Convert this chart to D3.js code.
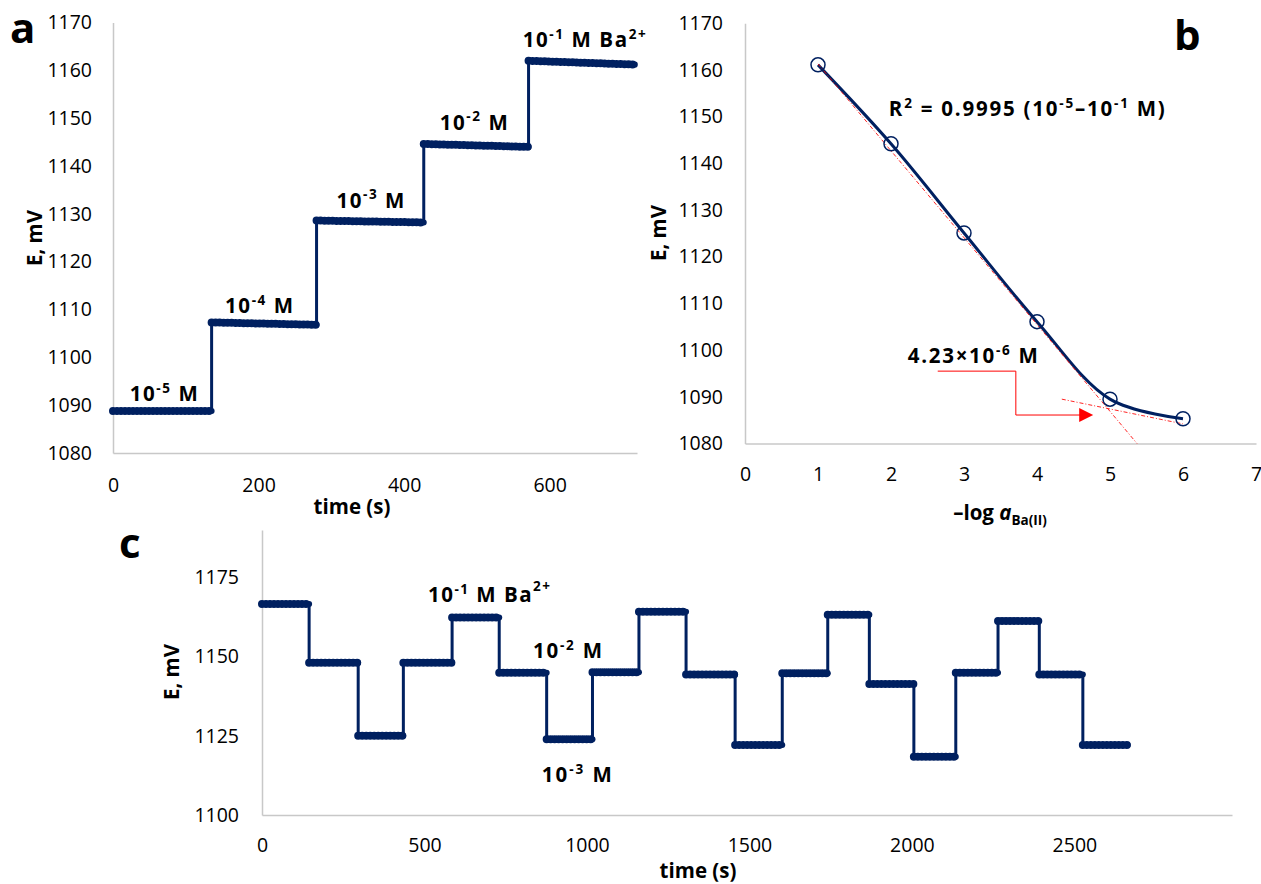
<!DOCTYPE html>
<html>
<head>
<meta charset="utf-8">
<script src="https://cdn.jsdelivr.net/npm/d3@7"></script>
<style>
  body { margin: 0; background: #fff; }
  svg { display: block; }
  text { font-family: "Open Sans", "Noto Sans", sans-serif; fill: #000; }
</style>
</head>
<body>
<svg id="fig" width="1261" height="884"></svg>
<script>
// ---------- data ----------
// (a) calibration run: step boundaries (s) and plateau potentials (mV) at start / end of each step
const aTimes = [0, 135.5, 279.7, 427, 571, 717];
const aStartE = [1088.8, 1107.3, 1128.6, 1144.6, 1162.0];
const aEndE = [1088.8, 1106.8, 1128.2, 1144.0, 1161.2];
const aConcExp = ["-5", "-4", "-3", "-2", "-1"];

// (b) calibration plot
const bLogA = [1, 2, 3, 4, 5, 6];
const bE = [1161.1, 1144.2, 1125.1, 1106.1, 1089.5, 1085.3];
const bFitLinear = [[1, 1161.3], [5.37, 1080]];   // Nernstian segment fit
const bFitLow = [[4.34, 1089.5], [6, 1084.2]];     // low-activity segment
const bDetectionLimit = "4.23×10";
const bR2 = "0.9995";

// (c) reversibility run: step boundaries (s) and plateau potentials (mV)
const cTimes = [0, 145, 296, 435, 585, 730, 876, 1017, 1160, 1305, 1456, 1601, 1741, 1869, 2006, 2135, 2265, 2392, 2526, 2664];
const cLevels = [1166.6, 1148.1, 1125.0, 1148.1, 1162.4, 1144.9, 1123.9, 1145.1, 1164.2, 1144.4, 1122.1, 1144.8, 1163.2, 1141.4, 1118.4, 1144.9, 1161.3, 1144.4, 1122.1];

// tick values
const aXTicks = [0, 200, 400, 600];
const aYTicks = [1080, 1090, 1100, 1110, 1120, 1130, 1140, 1150, 1160, 1170];
const bXTicks = [0, 1, 2, 3, 4, 5, 6, 7];
const bYTicks = aYTicks;
const cXTicks = [0, 500, 1000, 1500, 2000, 2500];
const cYTicks = [1100, 1125, 1150, 1175];

// ---------- styles ----------
const NAVY = "#002060";
const AXIS = "#c8c8c8";
const RED = "#ff0000";
const TICK_FS = 19.5;
const LABEL_FS = 20.5;

const svg = d3.select("#fig");

// bold text with superscript / subscript / italic runs, optionally stretched to a set width
function rich(g, x, y, parts, size, opts = {}) {
  const t = g.append("text")
    .attr("x", x).attr("y", y)
    .attr("font-size", size)
    .attr("font-weight", 700)
    .attr("text-anchor", opts.anchor || "start");
  if (opts.width) t.attr("textLength", opts.width).attr("lengthAdjust", "spacing");
  let shift = 0;
  parts.forEach(([str, kind]) => {
    let target = 0;
    if (kind === "sup") target = -0.40 * size;
    if (kind === "sup2") target = -0.55 * size;
    if (kind === "sub") target = 0.22 * size;
    const ts = t.append("tspan").text(str).attr("dy", target - shift);
    shift = target;
    if (kind === "sup" || kind === "sup2" || kind === "sub") ts.attr("font-size", size * 0.66);
    if (kind === "it") ts.attr("font-style", "italic");
  });
  return t;
}

function axes(g, x, y, xTicks, yTicks, xPad, yPad) {
  const fmt = d3.format("d");
  const ax = g.append("g")
    .attr("transform", `translate(0,${y.range()[0]})`)
    .call(d3.axisBottom(x).tickValues(xTicks).tickFormat(fmt).tickSize(0).tickSizeOuter(0).tickPadding(xPad));
  const ay = g.append("g")
    .attr("transform", `translate(${x.range()[0]},0)`)
    .call(d3.axisLeft(y).tickValues(yTicks).tickFormat(fmt).tickSize(0).tickSizeOuter(0).tickPadding(yPad));
  [ax, ay].forEach(a => {
    a.select(".domain").attr("stroke", AXIS).attr("stroke-width", 1.5);
    a.selectAll("text").attr("font-size", TICK_FS).attr("font-family", "Open Sans").attr("fill", "#000");
  });
}

// step trace: thin connecting line plus beaded plateau bands
function stepTrace(g, x, y, times, startE, endE) {
  const line = d3.line().x(d => x(d[0])).y(d => y(d[1]));
  const pts = [];
  for (let i = 0; i < startE.length; i++) {
    pts.push([times[i], startE[i]], [times[i + 1], endE[i]]);
  }
  g.append("path").attr("d", line(pts))
    .attr("fill", "none").attr("stroke", NAVY).attr("stroke-width", 3);
  for (let i = 0; i < startE.length; i++) {
    const seg = [[times[i], startE[i]], [times[i + 1], endE[i]]];
    g.append("path").attr("d", line(seg))
      .attr("fill", "none").attr("stroke", NAVY)
      .attr("stroke-width", 6).attr("stroke-linecap", "round");
    g.append("path").attr("d", line(seg))
      .attr("fill", "none").attr("stroke", NAVY)
      .attr("stroke-width", 8).attr("stroke-linecap", "round")
      .attr("stroke-dasharray", "0 4");
  }
}

// ---------- panel a ----------
{
  const g = svg.append("g");
  const x = d3.scaleLinear([0, 720], [113, 637]);
  const y = d3.scaleLinear([1080, 1170], [453, 22.5]);
  axes(g, x, y, aXTicks, aYTicks, 25, 21);
  stepTrace(g, x, y, aTimes, aStartE, aEndE);

  const labelAt = [[23, 1090.9], [154, 1109.3], [307, 1131.3], [449, 1147.6], [563, 1164.9]];
  aConcExp.forEach((e, i) => {
    const parts = [["10", ""], [e, "sup"], [" M", ""]];
    const last = i === aConcExp.length - 1;
    if (last) parts.push([" Ba", ""], ["2+", "sup"]);
    rich(g, x(labelAt[i][0]), y(labelAt[i][1]), parts, LABEL_FS, { width: last ? 123 : 68 });
  });

  g.append("text").attr("transform", "translate(42,238) rotate(-90)")
    .attr("text-anchor", "middle").attr("font-size", LABEL_FS).attr("font-weight", 700).text("E, mV");
  g.append("text").attr("x", 352).attr("y", 514)
    .attr("text-anchor", "middle").attr("font-size", LABEL_FS).attr("font-weight", 700).text("time (s)");
  g.append("text").attr("x", 10).attr("y", 43)
    .attr("font-size", 42).attr("font-weight", 700).text("a");
}

// ---------- panel b ----------
{
  const g = svg.append("g");
  const x = d3.scaleLinear([0, 7], [745, 1256]);
  const y = d3.scaleLinear([1080, 1170], [443.5, 23.3]);
  axes(g, x, y, bXTicks, bYTicks, 24, 22);

  const line = d3.line().x(d => x(d[0])).y(d => y(d[1]));
  const pts = bLogA.map((v, i) => [v, bE[i]]);
  g.append("path")
    .attr("d", line.curve(d3.curveCatmullRom.alpha(0.5))(pts))
    .attr("fill", "none").attr("stroke", NAVY).attr("stroke-width", 3);
  line.curve(d3.curveLinear);

  [bFitLinear, bFitLow].forEach(seg => {
    g.append("path").attr("d", line(seg))
      .attr("fill", "none").attr("stroke", RED).attr("stroke-width", 1)
      .attr("stroke-dasharray", "4 2 1 2").attr("opacity", 0.85);
  });

  g.selectAll("circle.pt").data(pts).join("circle")
    .attr("class", "pt")
    .attr("cx", d => x(d[0])).attr("cy", d => y(d[1])).attr("r", 7)
    .attr("fill", "none").attr("stroke", NAVY).attr("stroke-width", 1.5);

  // detection-limit callout
  const callout = [[2.64, 1095.5], [3.71, 1095.5], [3.71, 1086.1], [4.6, 1086.1]];
  g.append("path").attr("d", line(callout))
    .attr("fill", "none").attr("stroke", RED).attr("stroke-width", 1);
  const tip = [x(4.77), y(1086.1)];
  g.append("path")
    .attr("d", `M${tip[0]},${tip[1]} L${tip[0] - 14},${tip[1] - 7} L${tip[0] - 14},${tip[1] + 7} Z`)
    .attr("fill", RED);

  rich(g, x(2.23), y(1097.3), [[bDetectionLimit, ""], ["-6", "sup"], [" M", ""]], LABEL_FS, { width: 130 });
  rich(g, x(1.97), y(1150.2),
    [["R", ""], ["2", "sup"], [" = " + bR2 + " (10", ""], ["-5", "sup"], ["–10", ""], ["-1", "sup"], [" M)", ""]],
    LABEL_FS, { width: 276 });

  g.append("text").attr("transform", "translate(666,233) rotate(-90)")
    .attr("text-anchor", "middle").attr("font-size", LABEL_FS).attr("font-weight", 700).text("E, mV");
  rich(g, 1000, 520, [["–log  ", ""], ["a", "it"], ["Ba(II)", "sub"]], LABEL_FS, { anchor: "middle" });
  g.append("text").attr("x", 1174).attr("y", 50)
    .attr("font-size", 42).attr("font-weight", 700).text("b");
}

// ---------- panel c ----------
{
  const g = svg.append("g");
  const x = d3.scaleLinear([0, 2985], [262, 1232]);
  const y = d3.scaleLinear([1100, 1190], [815, 530]);
  axes(g, x, y, cXTicks, cYTicks, 23, 23);
  stepTrace(g, x, y, cTimes, cLevels, cLevels);

  rich(g, x(511), y(1167.3), [["10", ""], ["-1", "sup"], [" M Ba", ""], ["2+", "sup2"]], LABEL_FS, { width: 122 });
  rich(g, x(834), y(1149.6), [["10", ""], ["-2", "sup"], [" M", ""]], LABEL_FS, { width: 69 });
  rich(g, x(861), y(1110.4), [["10", ""], ["-3", "sup"], [" M", ""]], LABEL_FS, { width: 70 });

  g.append("text").attr("transform", "translate(179,672) rotate(-90)")
    .attr("text-anchor", "middle").attr("font-size", LABEL_FS).attr("font-weight", 700).text("E, mV");
  g.append("text").attr("x", 698).attr("y", 878)
    .attr("text-anchor", "middle").attr("font-size", LABEL_FS).attr("font-weight", 700).text("time (s)");
  g.append("text").attr("x", 119).attr("y", 558)
    .attr("font-size", 42).attr("font-weight", 700).text("c");
}
</script>
</body>
</html>
